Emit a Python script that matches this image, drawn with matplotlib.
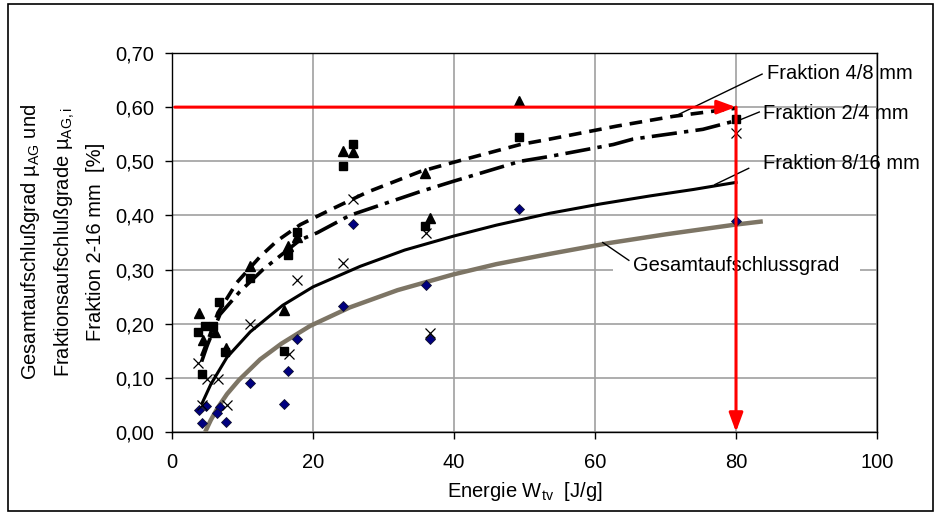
import matplotlib
matplotlib.use("Agg")
import matplotlib.pyplot as plt
from matplotlib.patches import Rectangle, FancyArrowPatch
from matplotlib.ticker import FuncFormatter

plt.rcParams['font.family'] = ['Liberation Sans', 'DejaVu Sans']
plt.rcParams['mathtext.fontset'] = 'custom'
plt.rcParams['mathtext.rm'] = 'Liberation Sans'
plt.rcParams['mathtext.it'] = 'Liberation Sans'
FS = 14.5

# measured points (energy J/g, degree of liberation)
tri_x = [3.8, 4.4, 6.1, 7.7, 11.1, 15.9, 16.5, 17.7, 24.3, 25.7, 35.9, 36.6, 49.2]
tri_y = [0.22, 0.169, 0.185, 0.155, 0.307, 0.226, 0.343, 0.36, 0.519, 0.517, 0.478, 0.396, 0.611]

sq_x = [3.7, 4.7, 5.8, 4.3, 7.5, 6.6, 11.1, 15.9, 16.5, 17.7, 24.3, 25.7, 35.9, 49.2, 80.0]
sq_y = [0.185, 0.195, 0.196, 0.107, 0.148, 0.24, 0.285, 0.15, 0.326, 0.37, 0.491, 0.531, 0.381, 0.544, 0.578]

cr_x = [3.7, 5.0, 6.5, 4.3, 7.8, 11.1, 16.6, 17.7, 24.3, 25.7, 36.0, 36.6, 80.0]
cr_y = [0.128, 0.098, 0.098, 0.05, 0.05, 0.2, 0.144, 0.28, 0.313, 0.43, 0.368, 0.183, 0.553]

dia_x = [3.8, 4.8, 6.8, 6.4, 4.3, 7.7, 11.1, 15.9, 16.5, 17.7, 24.3, 25.7, 36.0, 36.6, 49.2, 80.0]
dia_y = [0.041, 0.048, 0.046, 0.035, 0.017, 0.019, 0.091, 0.052, 0.113, 0.172, 0.233, 0.385, 0.272, 0.172, 0.411, 0.39]

# trend lines
f48_x = [4.2, 5.4, 6.5, 9.2, 12.5, 14.9, 18.2, 22.4, 27.7, 35.2, 39.9, 49.4, 53.6, 63.1, 71.1, 80.0]
f48_y = [0.14, 0.18, 0.22, 0.276, 0.324, 0.353, 0.383, 0.41, 0.443, 0.481, 0.498, 0.531, 0.541, 0.565, 0.583, 0.598]

f24_x = [4.2, 5.0, 6.8, 9.6, 12.9, 18.2, 20.6, 25.2, 35.2, 39.9, 49.4, 53.6, 62.6, 65.4, 75.3, 80.0]
f24_y = [0.13, 0.16, 0.217, 0.259, 0.3, 0.355, 0.368, 0.4, 0.444, 0.463, 0.5, 0.509, 0.531, 0.541, 0.559, 0.575]

f816_x = [4.3, 5.5, 7.8, 11.1, 15.7, 20.0, 26.7, 33.0, 40.0, 46.0, 53.6, 60.7, 67.8, 74.0, 80.0]
f816_y = [0.054, 0.088, 0.138, 0.185, 0.234, 0.268, 0.306, 0.336, 0.362, 0.382, 0.404, 0.421, 0.436, 0.448, 0.461]

ges_x = [4.7, 5.5, 6.5, 7.8, 9.5, 12.5, 15.5, 19.6, 25.2, 32.0, 39.9, 46.0, 53.6, 62.0, 70.0, 79.9, 83.8]
ges_y = [0.0, 0.022, 0.045, 0.07, 0.096, 0.134, 0.163, 0.196, 0.23, 0.262, 0.291, 0.31, 0.329, 0.349, 0.365, 0.383, 0.389]

xticks = [0, 20, 40, 60, 80, 100]
yticks = [0.0, 0.1, 0.2, 0.3, 0.4, 0.5, 0.6, 0.7]

fig = plt.figure(figsize=(9.41, 5.15), dpi=100)
ax = fig.add_axes([0.1828, 0.1612, 0.7492, 0.7359])

ax.set_xlim(0, 100)
ax.set_ylim(0, 0.70)
ax.set_xticks(xticks)
ax.set_yticks(yticks)
ax.yaxis.set_major_formatter(FuncFormatter(lambda v, p: f"{v:.2f}".replace('.', ',')))
ax.tick_params(direction='out', length=5, width=1, labelsize=FS)
ax.tick_params(axis='x', pad=10)
ax.tick_params(axis='y', pad=8)
ax.grid(True, color='#a0a0a0', lw=1.2, zorder=0)
ax.set_axisbelow(True)
for s in ax.spines.values():
    s.set_color('black')
    s.set_linewidth(1.0)

# lines
ax.plot(ges_x, ges_y, color='#7d7565', lw=3.2, zorder=3, solid_capstyle='butt')
ax.plot(f816_x, f816_y, color='black', lw=2.2, zorder=3)
ax.plot(f24_x, f24_y, color='black', lw=2.6, dashes=(7, 2, 1.2, 2), zorder=3)
ax.plot(f48_x, f48_y, color='black', lw=2.6, dashes=(3.5, 2.2), zorder=3)

# markers
ax.plot(dia_x, dia_y, 'D', ms=5, mfc='#000080', mec='#101030', mew=0.6, ls='none', zorder=4)
ax.plot(cr_x, cr_y, 'x', ms=7, mec='black', mew=0.9, ls='none', zorder=4)
ax.plot(sq_x, sq_y, 's', ms=6, mfc='black', mec='black', ls='none', zorder=4)
ax.plot(tri_x, tri_y, '^', ms=7, mfc='black', mec='black', ls='none', zorder=4)

# labels with leader lines
ax.text(84.4, 0.663, 'Fraktion 4/8 mm', fontsize=FS, ha='left', va='center', clip_on=False, zorder=6)
ax.plot([83.7, 71.3], [0.661, 0.583], color='black', lw=1, zorder=5, clip_on=False)
ax.text(83.8, 0.589, 'Fraktion 2/4 mm', fontsize=FS, ha='left', va='center', clip_on=False, zorder=6)
ax.plot([83.3, 80.1], [0.591, 0.574], color='black', lw=1, zorder=5, clip_on=False)
ax.text(83.8, 0.496, 'Fraktion 8/16 mm', fontsize=FS, ha='left', va='center', clip_on=False, zorder=6)
ax.plot([81.8, 77.0], [0.487, 0.457], color='black', lw=1, zorder=5, clip_on=False)
ax.text(65.4, 0.308, 'Gesamtaufschlussgrad', fontsize=FS, ha='left', va='center', zorder=2.5,
        bbox=dict(boxstyle='square,pad=1.0', fc='white', ec='none'))
ax.plot([64.8, 61.1], [0.317, 0.35], color='black', lw=1, zorder=5)

# red reading arrows
ax.add_patch(FancyArrowPatch((0.4, 0.60), (80, 0.60), arrowstyle='-|>,head_length=0.95,head_width=0.35',
                             mutation_scale=12, color='#ff0000', lw=2.2, shrinkA=0, shrinkB=0, zorder=7))
ax.add_patch(FancyArrowPatch((80, 0.60), (80, 0.0), arrowstyle='-|>,head_length=0.95,head_width=0.35',
                             mutation_scale=12, color='#ff0000', lw=2.2, shrinkA=0, shrinkB=0, zorder=7,
                             clip_on=False))

ax.set_xlabel('Energie W$_\\mathregular{tv}$  [J/g]', fontsize=FS, labelpad=6)
fig.text(0.066, 0.53, 'Gesamtaufschlußgrad µ$_\\mathregular{AG}$ und\n'
         'Fraktionsaufschlußgrade µ$_\\mathregular{AG,i}$\nFraktion 2-16 mm  [%]',
         rotation=90, ha='center', va='center', multialignment='center', fontsize=FS, linespacing=1.6)

fig.patches.append(Rectangle((8 / 941, 4 / 515), 925 / 941, 507 / 515, transform=fig.transFigure,
                             fill=False, ec='black', lw=1.2))

fig.savefig('out.png', dpi=100)
